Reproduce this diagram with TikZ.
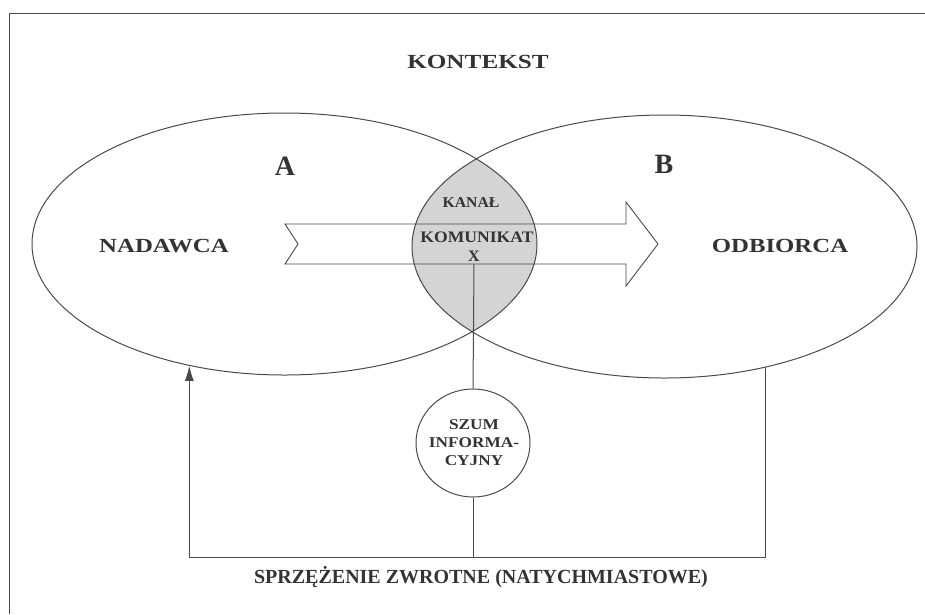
\documentclass[tikz,border=0pt]{standalone}
\usepackage{fontspec}
\usepackage{graphicx}
\setmainfont{Liberation Serif}
\newcommand\wide[2][1.24]{\scalebox{#1}[1]{#2}}
\usetikzlibrary{shapes.geometric,arrows.meta}
\definecolor{ink}{HTML}{333333}
\definecolor{linec}{HTML}{4A4A4A}
\definecolor{lensc}{HTML}{D4D4D4}
\tikzset{
  lbl/.style={text=ink,inner sep=0pt,font=\bfseries\fontsize{20}{24}\selectfont},
  big/.style={text=ink,inner sep=0pt,font=\bfseries\fontsize{28}{32}\selectfont},
  small/.style={text=ink,inner sep=0pt,font=\bfseries\fontsize{16}{18}\selectfont},
  oval/.style={ellipse,draw=linec,line width=1pt,inner sep=0pt},
  ln/.style={draw=linec,line width=1pt}
}
\begin{document}
\begin{tikzpicture}[x=1pt,y=-1pt]
\useasboundingbox (0,0) rectangle (925,614);
\fill[white] (0,0) rectangle (925,614);
% frame
\draw[ln,line width=1pt] (9,614) -- (9,13) -- (925,13);
% lens
\begin{scope}
\clip (284.5,244) ellipse [x radius=252.5, y radius=131];
\fill[lensc] (664.5,246.5) ellipse [x radius=252.5, y radius=131.5];
\end{scope}
\node[oval,minimum width=505pt,minimum height=262pt] (A) at (284.5,244) {};
\node[oval,minimum width=505pt,minimum height=263pt] (B) at (664.5,246.5) {};
% channel arrow
\draw[ln,line width=0.9pt] (285,224) -- (626,224) -- (626,202) -- (658,244) -- (626,286) -- (626,264) -- (285,264) -- (298,244) -- cycle;
\coordinate (xb) at (474,264);
% texts
\node[lbl] (kontekst) at (478,62) {\wide[1.26]{KONTEKST}};
\node[big] (la) at (285,166) {A};
\node[big] (lb) at (664,164) {B};
\node[lbl] (nadawca) at (164,246) {\wide{NADAWCA}};
\node[lbl] (odbiorca) at (780,246) {\wide{ODBIORCA}};
\node[small,font=\bfseries\fontsize{15}{18}\selectfont] (kanal) at (471,203) {\wide[1.05]{KANAŁ}};
\node[small] (komunikat) at (477,237) {\wide[1.1]{KOMUNIKAT}};
\node[small] (x) at (474,256) {X};
% noise
\node[oval,minimum width=114pt,minimum height=108pt] (szum) at (473,443) {};
\node[text=ink,inner sep=0pt,align=center,font=\bfseries\fontsize{15}{18}\selectfont] (szumt) at (474,443) {\wide[1.15]{SZUM}\\\wide[1.15]{INFORMA-}\\\wide[1.15]{CYJNY}};
\coordinate (base) at (476,557);
\draw[ln] (xb) -- (szum.north);
\draw[ln] (szum.south) -- (szum.south |- base);
\draw[ln,-{Latex[length=15pt,width=9pt]}] (B.-50.2) |- (base) -| (A.-128.9);
\node[text=ink,inner sep=0pt,font=\bfseries\fontsize{20}{24}\selectfont] (fb) at (481,577) {SPRZĘŻENIE ZWROTNE (NATYCHMIASTOWE)};
\end{tikzpicture}
\end{document}
